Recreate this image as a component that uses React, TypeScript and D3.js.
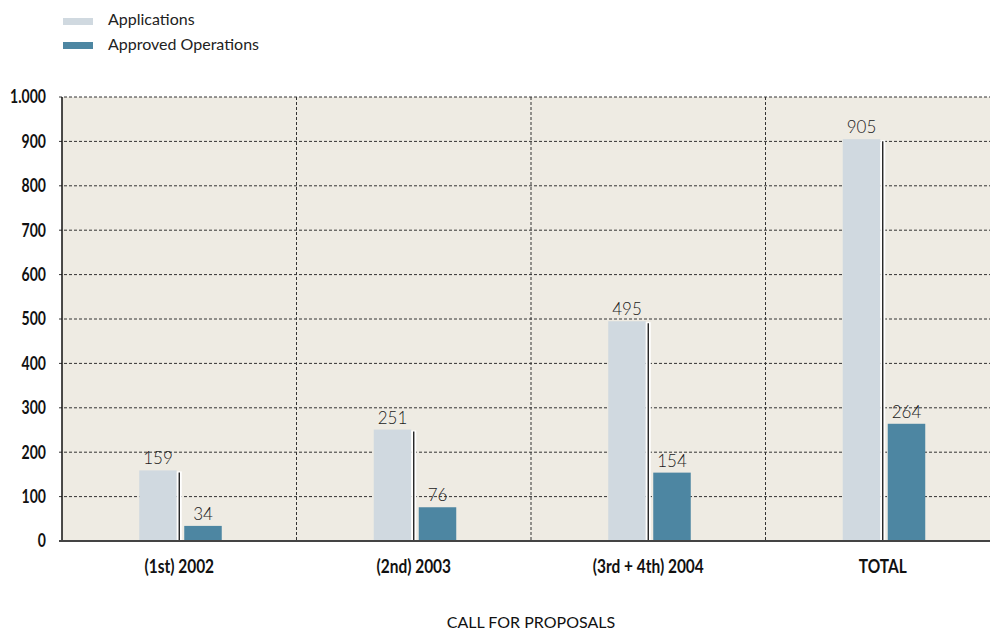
import React from "react";
import * as d3 from "d3";

const categories = ["(1st) 2002", "(2nd) 2003", "(3rd + 4th) 2004", "TOTAL"];
const applications = [159, 251, 495, 905];
const approved = [34, 76, 154, 264];
const yTicks = [0, 100, 200, 300, 400, 500, 600, 700, 800, 900, 1000];
const yTickLabels = ["0", "100", "200", "300", "400", "500", "600", "700", "800", "900", "1.000"];
const seriesNames = ["Applications", "Approved Operations"];
const xTitle = "CALL FOR PROPOSALS";

const W = 990;
const H = 632;
const left = 62;
const right = 1000;
const top = 97;
const bottom = 541;

const LIGHT = "#D0D9E0";
const DARK = "#4D86A2";
const BG = "#EEEBE3";

const sans = "Lato, 'Open Sans', sans-serif";

export default function App() {
  const x = d3.scaleBand<string>().domain(categories).range([left, right]).padding(0);
  const y = d3.scaleLinear().domain([0, 1000]).range([bottom, top]);
  const bw = 37.5;

  return (
    <svg width={W} height={H} style={{ position: "absolute", left: 0, top: 0, background: "#fff" }}>
      {/* legend */}
      <rect x={63} y={18} width={30} height={7} fill={LIGHT} />
      <rect x={63} y={42} width={30} height={7} fill={DARK} />
      <text x={108} y={25} fontFamily={sans} fontSize={16} fill="#222">{seriesNames[0]}</text>
      <text x={108} y={50} fontFamily={sans} fontSize={16} fill="#222">{seriesNames[1]}</text>

      {/* plot background */}
      <rect x={left} y={top} width={right - left} height={bottom - top} fill={BG} />

      {/* horizontal grid */}
      {yTicks.filter((t) => t > 0).map((t) => (
        <line key={t} x1={59} x2={right} y1={y(t)} y2={y(t)} stroke="#333" strokeWidth={1} strokeDasharray="3,2" />
      ))}
      {/* vertical grid */}
      {categories.slice(1).map((c) => (
        <line key={c} x1={x(c)!} x2={x(c)!} y1={top} y2={bottom} stroke="#333" strokeWidth={1} strokeDasharray="3,2" />
      ))}

      {/* bars */}
      {categories.map((c, i) => {
        const cx = x(c)! + x.bandwidth() / 2;
        const ya = y(applications[i]);
        const yb = y(approved[i]);
        return (
          <g key={c}>
            <rect x={cx - 2.5 - bw} y={ya} width={bw} height={bottom - ya} fill={LIGHT} />
            <rect x={cx - 2.5} y={ya + 1} width={5} height={bottom - ya - 1} fill="#fff" />
            <line x1={cx} x2={cx} y1={ya + 2} y2={bottom} stroke="#111" strokeWidth={1.3} />
            <rect x={cx + 5} y={yb} width={bw} height={bottom - yb} fill={DARK} />
            <text x={cx - 2.5 - bw / 2} y={ya - 6} textAnchor="middle" fontFamily={sans} fontWeight={300} fontSize={17} fill="#1a1a1a">{applications[i]}</text>
            <text x={cx + 5 + bw / 2} y={yb - 6} textAnchor="middle" fontFamily={sans} fontWeight={300} fontSize={17} fill="#1a1a1a">{approved[i]}</text>
            <text transform={`translate(${cx},573) scale(0.86,1)`} textAnchor="middle" fontFamily={sans} fontWeight={700} fontSize={18} fill="#111">{c}</text>
          </g>
        );
      })}

      {/* axes */}
      <line x1={left} x2={left} y1={top} y2={bottom} stroke="#111" strokeWidth={1.5} />
      <line x1={59} x2={right} y1={bottom} y2={bottom} stroke="#444" strokeWidth={2} />
      {yTicks.map((t, i) => (
        <text key={t} transform={`translate(46,${y(t)}) scale(0.78,1)`} dy="0.36em" textAnchor="end" fontFamily={sans} fontWeight={700} fontSize={18} fill="#111">{yTickLabels[i]}</text>
      ))}

      <text x={531} y={628} textAnchor="middle" fontFamily={sans} fontSize={16} fill="#111">{xTitle}</text>
    </svg>
  );
}
